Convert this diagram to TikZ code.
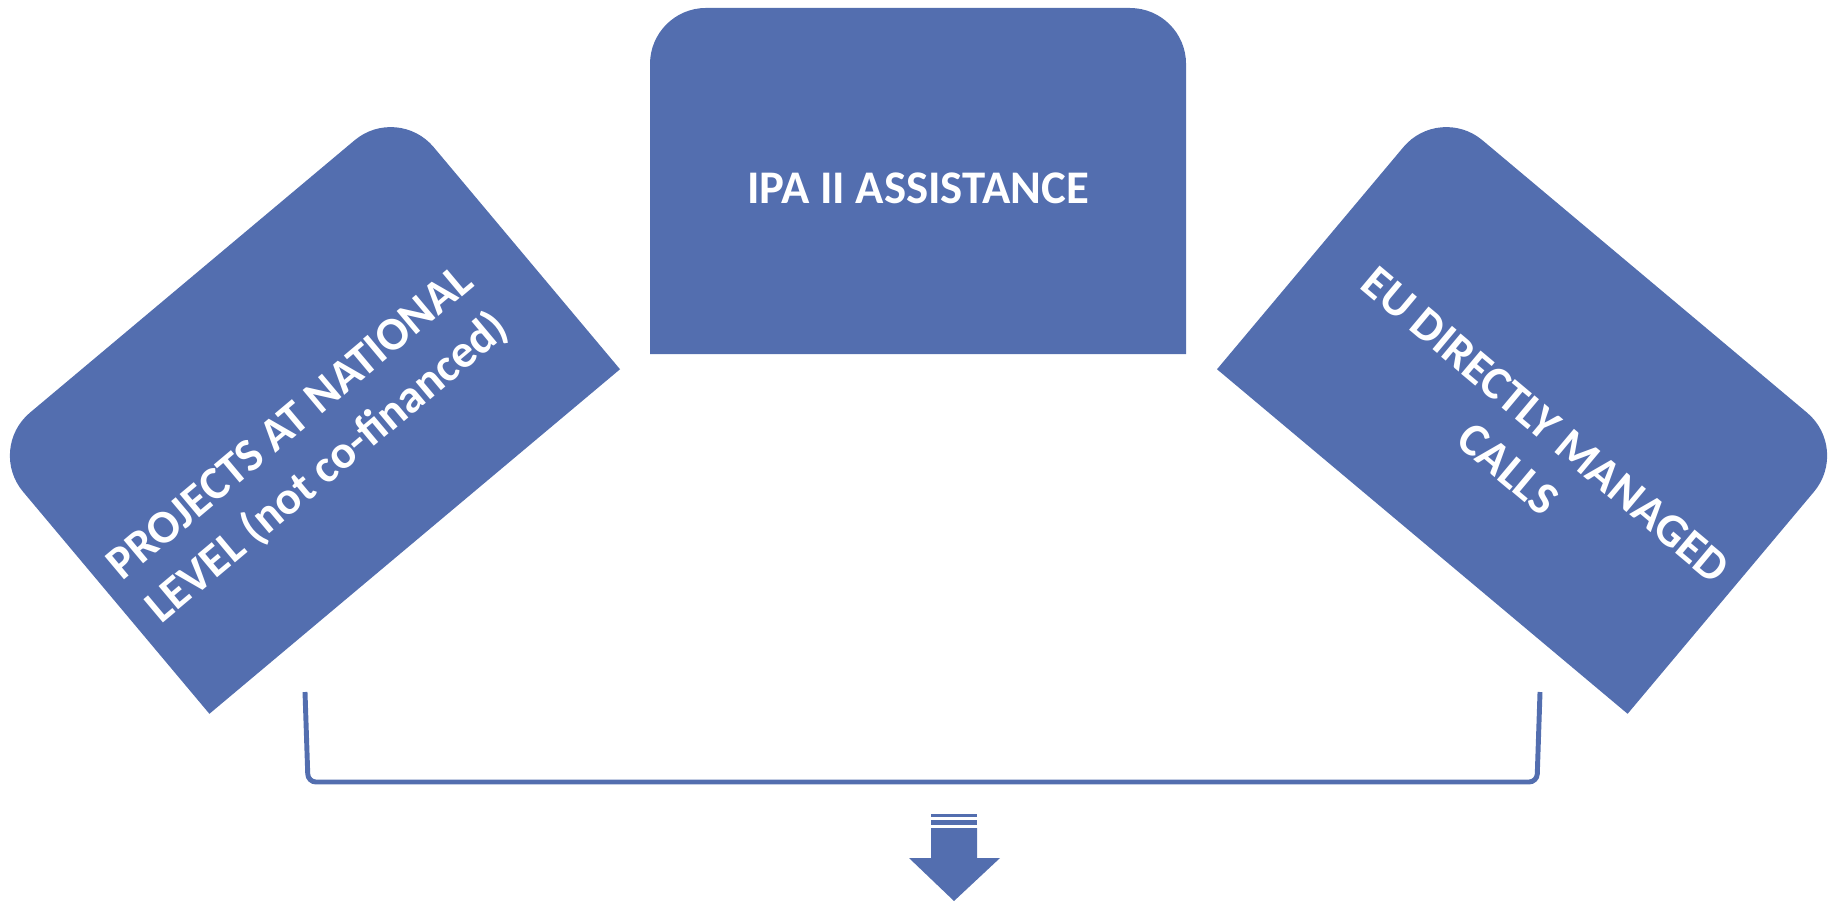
\documentclass[tikz,border=0pt]{standalone}
\usepackage{fontspec}
\setmainfont{Carlito}
\definecolor{tabblue}{RGB}{83,110,175}
\begin{document}
\begin{tikzpicture}[x=0.01cm, y=0.01cm,
    tabtext/.style={text=white, font=\bfseries\fontsize{13.3}{16.5}\selectfont, align=center},
    tabshape/.pic={\fill[tabblue] (-268,-173) -- (-268,117) arc[start angle=180, end angle=90, radius=0.56cm]
      -- (212,173) arc[start angle=90, end angle=0, radius=0.56cm] -- (268,-173) -- cycle;},
    bracket/.style={draw=tabblue, line width=1.4pt, rounded corners=0.08cm}]
      \useasboundingbox (0,0) rectangle (1834,902);
      \pic at (918,721) {tabshape};
      \pic[rotate=40] at (303.5,493) {tabshape};
      \pic[rotate=-40] at (1533.5,493) {tabshape};
      \node[tabtext] (ipa) at (918,714) {IPA II ASSISTANCE};
      \node[tabtext, rotate=40] (national) at (310,455) {PROJECTS AT NATIONAL\\LEVEL (not co-financed)};
      \node[tabtext, rotate=-40] (direct) at (1527,455) {EU DIRECTLY MANAGED\\CALLS};
      \coordinate (bl) at (305,210);
      \coordinate (br) at (1540,210);
      \draw[bracket] (bl) -- (308,120) -- (1537,120) -- (br);
      \fill[tabblue] (931,88) rectangle (977,85);
      \fill[tabblue] (931,82) rectangle (977,77);
      \fill[tabblue] (931,74) -- (931,44) -- (909,44) -- (954,1) -- (1000,44) -- (977,44) -- (977,74) -- cycle;
    \end{tikzpicture}
\end{document}
